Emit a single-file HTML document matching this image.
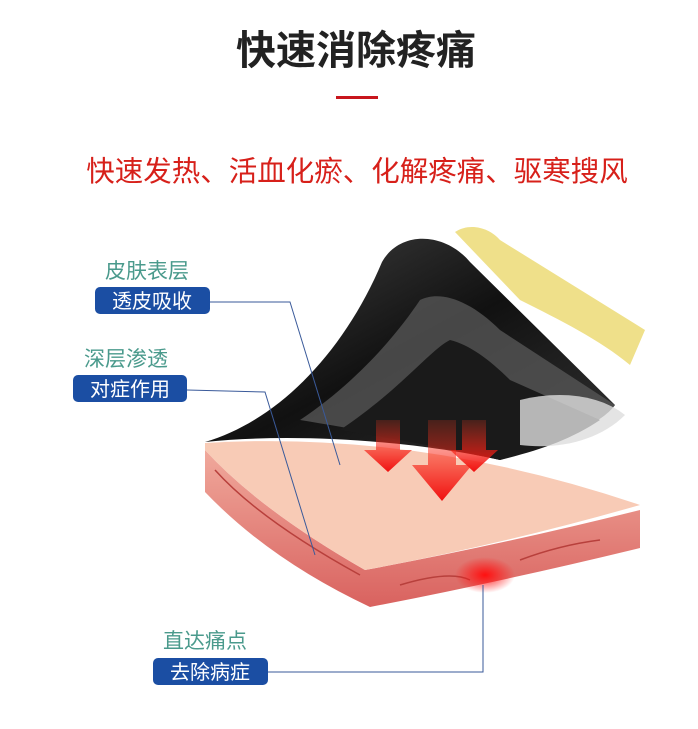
<!DOCTYPE html>
<html><head><meta charset="utf-8"><style>
body{margin:0;background:#fff;}
svg{display:block}
text{font-family:"Liberation Sans","Noto Sans CJK SC",sans-serif;}
</style></head><body>
<svg width="698" height="729" viewBox="0 0 698 729" xmlns="http://www.w3.org/2000/svg">
<defs>
<radialGradient id="glow" cx="0.5" cy="0.5" r="0.5"><stop offset="0" stop-color="#ff1010"/><stop offset="1" stop-color="#ff1010" stop-opacity="0"/></radialGradient>
<linearGradient id="blk" x1="0" y1="0" x2="1" y2="1"><stop offset="0" stop-color="#444"/><stop offset="0.5" stop-color="#111"/><stop offset="1" stop-color="#333"/></linearGradient>
<linearGradient id="arr" x1="0" y1="0" x2="0" y2="1"><stop offset="0" stop-color="#ff3a20" stop-opacity="0.2"/><stop offset="1" stop-color="#f01010"/></linearGradient>
<linearGradient id="front" x1="0" y1="0" x2="0" y2="1"><stop offset="0" stop-color="#f0a99c"/><stop offset="1" stop-color="#d9625f"/></linearGradient>
</defs>
<text x="356" y="64" font-size="40" font-weight="bold" fill="#222" text-anchor="middle">快速消除疼痛</text>
<rect x="336" y="96" width="42" height="3" fill="#c8161d"/>
<text x="357" y="181" font-size="28.5" fill="#d7201a" text-anchor="middle">快速发热、活血化瘀、化解疼痛、驱寒搜风</text>

<!-- skin slab -->
<path d="M205,450 Q260,510 365,570 Q500,545 640,510 L640,548 Q500,582 370,607 Q270,560 205,492 Z" fill="url(#front)"/>
<path d="M205,443 Q420,430 640,505 Q500,545 365,570 Q260,510 205,450 Z" fill="#f8cbb6"/>
<path d="M215,470 Q260,520 360,575 M400,585 Q450,570 470,580 M520,560 Q560,545 600,540" stroke="#b8403c" stroke-width="1.5" fill="none"/>
<ellipse cx="485" cy="575" rx="30" ry="18" fill="url(#glow)"/>

<!-- patch layers -->
<path d="M455,232 C470,222 490,228 500,240 L645,330 L630,365 C600,340 560,320 520,300 Z" fill="#efe08a"/>
<path d="M205,442 C280,420 345,350 382,262 C400,230 445,232 470,262 L615,405 C600,425 560,440 500,460 C420,442 300,432 205,442 Z" fill="url(#blk)"/>
<path d="M300,420 C360,380 400,330 420,300 C440,290 470,300 500,330 L615,405 C600,425 560,440 500,460 C420,440 360,430 300,420 Z" fill="#555" opacity="0.8"/>
<path d="M340,430 C400,390 430,350 450,340 C470,345 490,360 510,380 L600,420 C570,440 540,450 500,460 C430,445 390,438 340,430 Z" fill="#1a1a1a"/>
<path d="M520,400 C560,390 600,395 625,415 C600,440 560,450 520,445 Z" fill="#ddd" opacity="0.8"/>

<!-- arrows -->
<path d="M376,420 h24 v30 h12 l-24,22 l-24,-22 h12 Z" fill="url(#arr)"/>
<path d="M462,420 h24 v30 h12 l-24,22 l-24,-22 h12 Z" fill="url(#arr)"/>
<path d="M428,420 h28 v45 h16 l-30,36 l-30,-36 h16 Z" fill="url(#arr)"/>

<!-- connectors -->
<polyline points="210,302 290,302 340,465" fill="none" stroke="#3a5a9a" stroke-width="1"/>
<polyline points="187,390 265,392 315,555" fill="none" stroke="#3a5a9a" stroke-width="1"/>
<polyline points="268,672 483,672 483,585" fill="none" stroke="#3a5a9a" stroke-width="1"/>

<!-- labels -->
<text x="105" y="278" font-size="21" fill="#4a9a8c">皮肤表层</text>
<rect x="95" y="287" width="115" height="27" rx="5" fill="#1b4ea3"/>
<text x="152" y="308" font-size="20" fill="#fff" text-anchor="middle">透皮吸收</text>
<text x="84" y="366" font-size="21" fill="#4a9a8c">深层渗透</text>
<rect x="73" y="375" width="114" height="27" rx="5" fill="#1b4ea3"/>
<text x="130" y="396" font-size="20" fill="#fff" text-anchor="middle">对症作用</text>
<text x="163" y="648" font-size="21" fill="#4a9a8c">直达痛点</text>
<rect x="153" y="658" width="115" height="27" rx="5" fill="#1b4ea3"/>
<text x="210" y="679" font-size="20" fill="#fff" text-anchor="middle">去除病症</text>
</svg>
</body></html>
